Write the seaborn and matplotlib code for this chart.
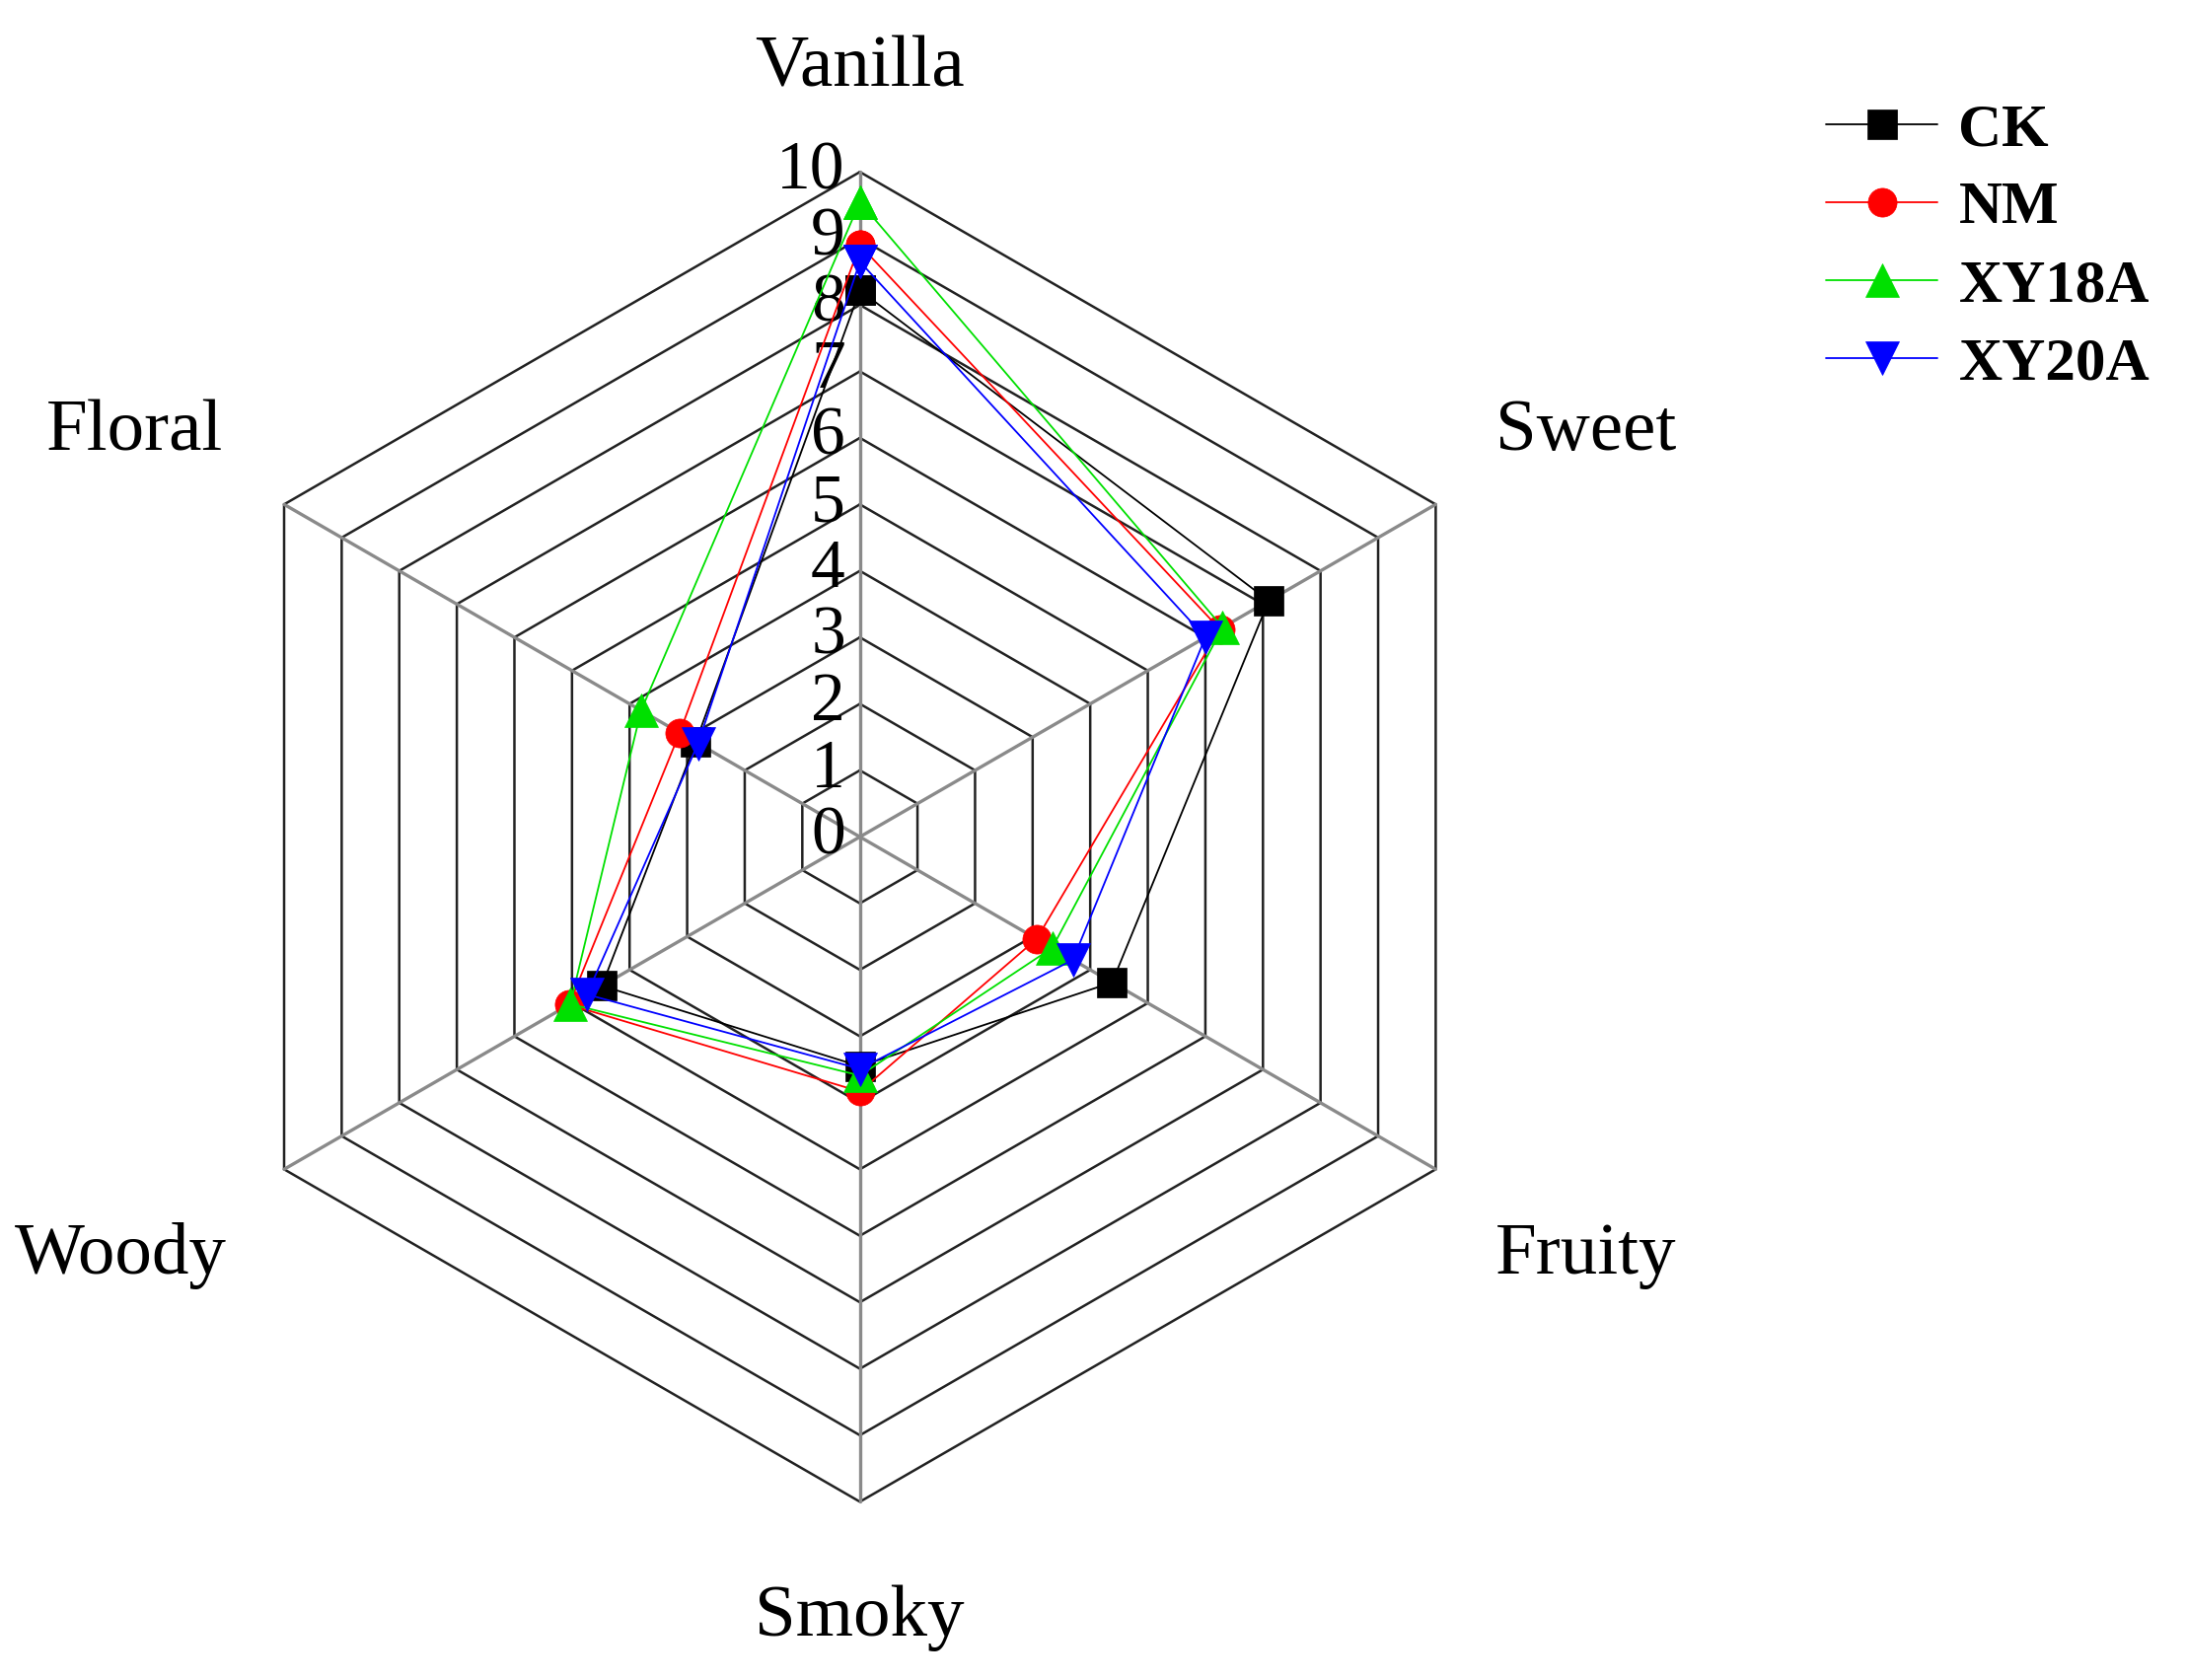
import numpy as np
import pandas as pd
import matplotlib
matplotlib.use('Agg')
import matplotlib.pyplot as plt
import seaborn as sns

########### Datos ############
categorias = ['Vanilla', 'Sweet', 'Fruity', 'Smoky', 'Woody', 'Floral']
ck = [8.22, 7.1, 4.38, 3.45, 4.48, 2.85]
nm = [8.9, 6.25, 3.07, 3.83, 5.05, 3.13]
xy18a = [9.55, 6.3, 3.34, 3.59, 5.03, 3.8]
xy20a = [8.65, 6.0, 3.7, 3.49, 4.74, 2.81]
series = ['CK', 'NM', 'XY18A', 'XY20A']
niveles = list(range(0, 11))

colores = {'CK': 'black', 'NM': '#ff0000', 'XY18A': '#00e000', 'XY20A': '#0000ff'}
marcadores = {'CK': 's', 'NM': 'o', 'XY18A': '^', 'XY20A': 'v'}

# angulos: Vanilla arriba, sentido horario
angulos = np.deg2rad(90 - 60 * np.arange(len(categorias)))

########### Figura ############
sns.set_style('white')
plt.rcParams['font.family'] = ['Liberation Serif', 'DejaVu Serif']
plt.rcParams['text.color'] = 'black'

fig = plt.figure(figsize=(22.16, 17.03), dpi=100)
ax = fig.add_axes([0, 0, 1, 1])
u = 67.4  # px por unidad
cx, cy = 871.7, 848.3
ax.set_xlim(-cx / u, (2216 - cx) / u)
ax.set_ylim(-(1703 - cy) / u, cy / u)
ax.axis('off')

# rejilla hexagonal
ang_c = np.append(angulos, angulos[0])
for r in niveles[1:]:
    ax.plot(r * np.cos(ang_c), r * np.sin(ang_c), color='#222222', lw=1.8, zorder=1)
for a in angulos:
    ax.plot([0, 10 * np.cos(a)], [0, 10 * np.sin(a)], color='#8a8a8a', lw=2.4, zorder=1)

# etiquetas del eje
for r in niveles:
    ax.text(-0.22, r, str(r), ha='right', va='center', fontsize=50, zorder=2)

# etiquetas de categorias (radio, desplazamiento x, desplazamiento y)
ajuste = {'Vanilla': (11.55, 0, 0), 'Sweet': (12.6, 0, -0.22), 'Fruity': (12.6, 0, 0),
          'Smoky': (11.75, 0, 0), 'Woody': (12.6, -0.2, 0), 'Floral': (12.6, 0, -0.22)}
for cat, a in zip(categorias, angulos):
    rl, dx, dy = ajuste[cat]
    ax.text(rl * np.cos(a) + dx, rl * np.sin(a) + dy, cat, ha='center', va='center', fontsize=54)

# series
datos = {'CK': ck, 'NM': nm, 'XY18A': xy18a, 'XY20A': xy20a}
for i, s in enumerate(series):
    v = np.array(datos[s] + [datos[s][0]])
    df = pd.DataFrame({'x': v * np.cos(ang_c), 'y': v * np.sin(ang_c)})
    sns.lineplot(data=df, x='x', y='y', sort=False, estimator=None, ax=ax,
                 color=colores[s], lw=1.3, marker=marcadores[s],
                 markersize=21 if marcadores[s] in 'so' else 24,
                 markeredgecolor=colores[s], markeredgewidth=0.5,
                 label=s, zorder=3 + i)

ax.legend(loc='upper left', bbox_to_anchor=(1851 / 2216, 1 - 104 / 1703),
          bbox_transform=fig.transFigure, frameon=False,
          prop={'weight': 'bold', 'size': 44}, handlelength=1.85,
          handletextpad=0.35, labelspacing=0.38, borderaxespad=0, borderpad=0)

plt.savefig('out.png', dpi=100)
